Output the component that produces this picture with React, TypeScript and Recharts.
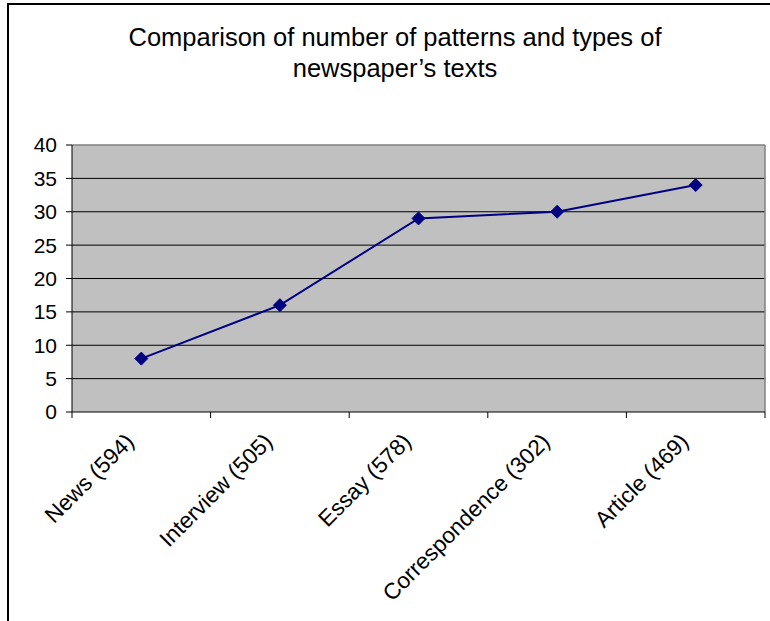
import { LineChart, Line, XAxis, YAxis, CartesianGrid, ReferenceLine } from 'recharts';

const categories = ['News (594)', 'Interview (505)', 'Essay (578)', 'Correspondence (302)', 'Article (469)'];
const patternCounts = [8, 16, 29, 30, 34];
const yTicks = [0, 5, 10, 15, 20, 25, 30, 35, 40];
const gridValues = [5, 10, 15, 20, 25, 30, 35];

const FONT = '"Liberation Sans", Arial, sans-serif';

// each category sits in the middle of its slot, slot edges carry the tick marks
const chartData = categories.map((name, i) => ({
  name,
  pos: i + 0.5,
  count: patternCounts[i],
}));

const xTicks: number[] = [];
for (let i = 0; i <= categories.length; i++) {
  xTicks.push(i);
  if (i < categories.length) xTicks.push(i + 0.5);
}

function CategoryTick(props: any) {
  const { x, y, payload } = props;
  const axisY = y - 6;
  const value = payload.value as number;
  if (Number.isInteger(value)) {
    return <line x1={x} y1={axisY} x2={x} y2={axisY + 6} stroke="#000" strokeWidth={1} />;
  }
  const label = categories[Math.floor(value)];
  const tx = x - 6;
  const ty = axisY + 31;
  return (
    <text
      x={tx}
      y={ty}
      textAnchor="end"
      fontSize={22.5}
      fontFamily={FONT}
      fill="#000"
      transform={`rotate(-45 ${tx} ${ty})`}
    >
      {label}
    </text>
  );
}

function Diamond(props: any) {
  const { cx, cy } = props;
  const r = 6.5;
  return (
    <polygon
      points={`${cx},${cy - r} ${cx + r},${cy} ${cx},${cy + r} ${cx - r},${cy}`}
      fill="#000080"
      stroke="#000080"
    />
  );
}

export default function App() {
  return (
    <div
      style={{
        position: 'absolute',
        left: 0,
        top: 0,
        width: 770,
        height: 621,
        background: '#fff',
        overflow: 'hidden',
      }}
    >
      <div
        style={{
          position: 'absolute',
          left: 7,
          top: 3,
          width: 900,
          height: 900,
          borderTop: '2px solid #000',
          borderLeft: '2px solid #000',
        }}
      />
      <div
        style={{
          position: 'absolute',
          left: 95,
          top: 22,
          width: 600,
          textAlign: 'center',
          fontFamily: FONT,
          fontSize: 25.5,
          lineHeight: '31px',
          color: '#000',
        }}
      >
        Comparison of number of patterns and types of
        <br />
        newspaper’s texts
      </div>
      <div style={{ position: 'absolute', left: 0, top: 0 }}>
        <LineChart
          width={770}
          height={621}
          data={chartData}
          margin={{ top: 145, right: 5, left: 0, bottom: 89 }}
        >
          <CartesianGrid
            vertical={false}
            horizontalValues={gridValues}
            stroke="#000"
            strokeOpacity={1}
            fill="#c0c0c0"
            fillOpacity={1}
          />
          <ReferenceLine y={40} stroke="#808080" strokeWidth={1.5} />
          <ReferenceLine x={5} stroke="#808080" strokeWidth={1.5} />
          <XAxis
            dataKey="pos"
            type="number"
            domain={[0, 5]}
            ticks={xTicks}
            interval={0}
            height={120}
            tickSize={6}
            tickMargin={0}
            tickLine={false}
            axisLine={{ stroke: '#000' }}
            tick={<CategoryTick />}
          />
          <YAxis
            domain={[0, 40]}
            ticks={yTicks}
            interval={0}
            width={72}
            tickSize={6}
            tickMargin={9}
            axisLine={{ stroke: '#000' }}
            tickLine={{ stroke: '#000' }}
            tick={{ fill: '#000', fontSize: 21, fontFamily: FONT }}
          />
          <Line
            type="linear"
            dataKey="count"
            stroke="#000080"
            strokeWidth={2}
            dot={<Diamond />}
            activeDot={false}
            isAnimationActive={false}
          />
        </LineChart>
      </div>
    </div>
  );
}
